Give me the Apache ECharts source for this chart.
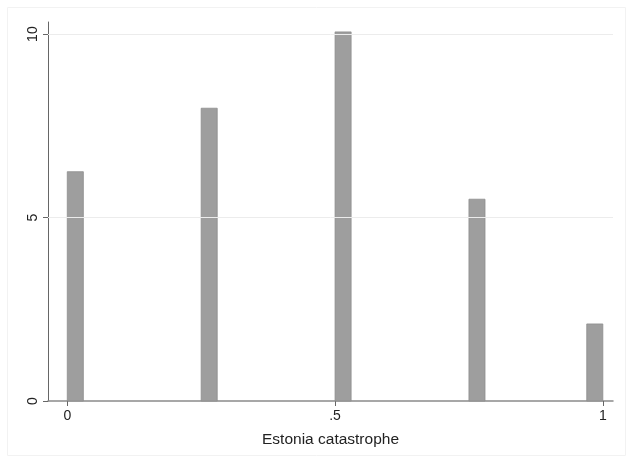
<!DOCTYPE html>
<html>
<head>
<meta charset="utf-8">
<script src="https://cdn.jsdelivr.net/npm/echarts@6/dist/echarts.min.js"></script>
<style>
html,body{margin:0;padding:0;background:#fff;}
#c{width:630px;height:459px;}
</style>
</head>
<body>
<div id="c"></div>
<script>
// Data (density histogram)
const binStarts = [0, 0.25, 0.5, 0.75, 0.97];
const binEnds   = [0.03, 0.28, 0.53, 0.78, 1.0];
const density   = [6.25, 7.98, 10.06, 5.5, 2.1];
const xTicks = [0, 0.5, 1];
const xTickLabels = ['0', '.5', '1'];
const yTicks = [0, 5, 10];
const xTitle = 'Estonia catastrophe';

const barData = binStarts.map((s, i) => [s, binEnds[i], density[i]]);
const chart = echarts.init(document.getElementById('c'), null, {renderer: 'canvas'});
const font = 'Liberation Sans, Arial, Helvetica, sans-serif';

chart.setOption({
  animation: false,
  backgroundColor: '#ffffff',
  graphic: [{
    type: 'rect', left: 5, top: 5, silent: true, z: -10,
    shape: {width: 618, height: 448},
    style: {fill: 'none', stroke: '#f2f2f2', lineWidth: 1}
  }],
  grid: {left: 48, right: 17, top: 22, bottom: 58, containLabel: false},
  xAxis: {
    type: 'value', min: -0.036, max: 1.019,
    name: xTitle, nameLocation: 'middle', nameGap: 31,
    nameTextStyle: {color: '#222', fontSize: 15.5, fontFamily: font},
    axisLine: {show: true, onZero: false, lineStyle: {color: '#8a8a8a', width: 1.5}},
    axisTick: {show: true, length: 5, customValues: xTicks, lineStyle: {color: '#666'}},
    axisLabel: {
      customValues: xTicks, margin: 8, color: '#222', fontSize: 14, fontFamily: font,
      formatter: v => { const i = xTicks.findIndex(t => Math.abs(t - v) < 1e-9); return i >= 0 ? xTickLabels[i] : ''; }
    },
    splitLine: {show: false}
  },
  yAxis: {
    type: 'value', min: 0, max: 10.33,
    axisLine: {show: true, onZero: false, lineStyle: {color: '#666', width: 1}},
    axisTick: {show: true, length: 5, customValues: yTicks, lineStyle: {color: '#666'}},
    axisLabel: {customValues: yTicks, rotate: 90, margin: 8, color: '#222', fontSize: 14, fontFamily: font},
    splitLine: {show: false}
  },
  series: [{
    type: 'custom',
    data: barData,
    encode: {x: [0, 1], y: 2},
    renderItem: function (params, api) {
      const p0 = api.coord([api.value(0), api.value(2)]);
      const p1 = api.coord([api.value(1), 0]);
      return {
        type: 'rect',
        shape: {x: p0[0], y: p0[1], width: p1[0] - p0[0], height: p1[1] - p0[1]},
        style: {fill: '#9e9e9e', stroke: '#8e8e8e', lineWidth: 0.8}
      };
    }
  }, {
    type: 'line',
    data: [],
    markLine: {
      silent: true, symbol: 'none', label: {show: false},
      lineStyle: {color: '#ececec', type: 'solid', width: 1},
      data: yTicks.filter(v => v > 0).map(v => ({yAxis: v}))
    },
    z: 0
  }]
});
</script>
</body>
</html>
